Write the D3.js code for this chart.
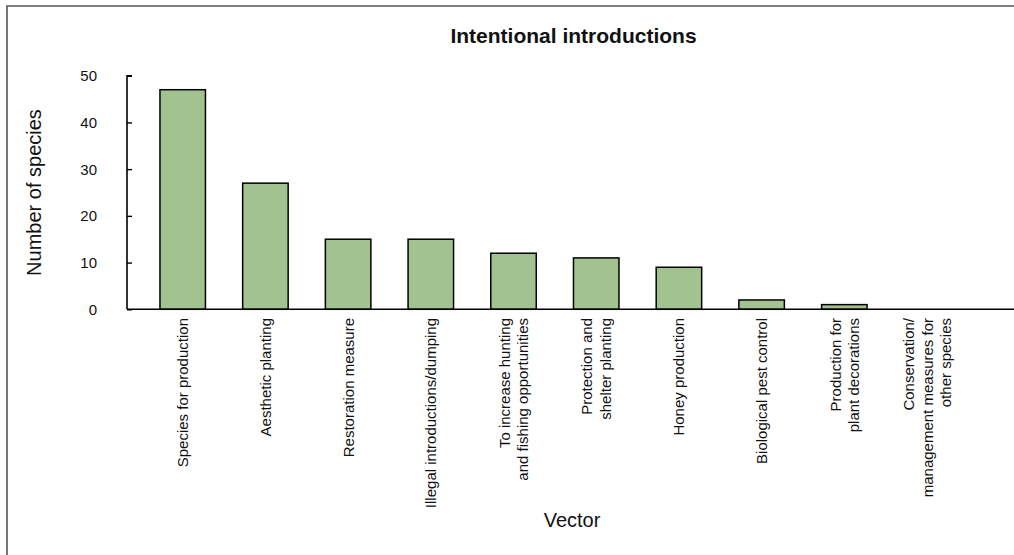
<!DOCTYPE html>
<html>
<head>
<meta charset="utf-8">
<script src="https://cdn.jsdelivr.net/npm/d3@7"></script>
<style>
  html, body { margin: 0; padding: 0; background: #fff; }
  svg { display: block; font-family: "Liberation Sans", Arial, Helvetica, sans-serif; }
</style>
</head>
<body>
<svg id="chart" width="1014" height="555"></svg>
<script>
const categories = [
  ["Species for production"],
  ["Aesthetic planting"],
  ["Restoration measure"],
  ["Illegal introductions/dumping"],
  ["To increase hunting", "and fishing opportunities"],
  ["Protection and", "shelter planting"],
  ["Honey production"],
  ["Biological pest control"],
  ["Production for", "plant decorations"],
  ["Conservation/", "management measures for", "other species"]
];
const values = [47, 27, 15, 15, 12, 11, 9, 2, 1, 0];
const yTicks = [0, 10, 20, 30, 40, 50];
const title = "Intentional introductions";
const xTitle = "Vector";
const yTitle = "Number of species";

const svg = d3.select("#chart");

// frame
svg.append("path")
  .attr("d", "M7,555 L7,6 L1014,6")
  .attr("fill", "none").attr("stroke", "#555").attr("stroke-width", 1.6);

const axisX = 127, y0px = 309.3, y50px = 75.7;
const ids = categories.map((d, i) => i);
const x = d3.scaleBand().domain(ids).range([141.35, 968.4]).paddingInner(0.45).paddingOuter(0.225);
const y = d3.scaleLinear().domain([0, 50]).range([y0px, y50px]);

// bars
svg.append("g").selectAll("rect").data(values).join("rect")
  .attr("x", (d, i) => x(i))
  .attr("y", d => y(d))
  .attr("width", x.bandwidth())
  .attr("height", d => y(0) - y(d))
  .attr("fill", "#a2c38f")
  .attr("stroke", "#000")
  .attr("stroke-width", 1.5);

// y axis
const yAxis = d3.axisRight(y).tickValues(yTicks).tickSize(5).tickFormat("");
const gy = svg.append("g").attr("transform", `translate(${axisX},0)`).call(yAxis);
gy.select(".domain").attr("stroke", "#000").attr("stroke-width", 1.6).attr("d", `M5,${y50px}H0V${y0px}`);
gy.selectAll(".tick line").attr("stroke", "#000").attr("stroke-width", 1.4);

svg.append("g").selectAll("text").data(yTicks).join("text")
  .attr("x", 97).attr("y", d => y(d))
  .attr("text-anchor", "end").attr("dominant-baseline", "central")
  .attr("font-size", 15).attr("fill", "#111")
  .text(d => d);

// x axis line
const xAxis = d3.axisBottom(x).tickSize(0).tickFormat("");
const gx = svg.append("g").attr("transform", `translate(0,${y0px})`).call(xAxis);
gx.select(".domain").attr("stroke", "#000").attr("stroke-width", 1.6).attr("d", `M${axisX},0H1014`);

// category labels
const lineGap = 18.5;
const lab = svg.append("g").selectAll("text").data(categories).join("text")
  .attr("transform", (d, i) => `translate(${x(i) + x.bandwidth() / 2},318) rotate(-90)`)
  .attr("text-anchor", "end")
  .attr("font-size", 15).attr("fill", "#111");
lab.each(function(lines) {
  const t = d3.select(this);
  lines.forEach((ln, j) => {
    t.append("tspan")
      .attr("x", 0)
      .attr("y", (j - (lines.length - 1) / 2) * lineGap)
      .attr("dominant-baseline", "central")
      .text(ln);
  });
});

// titles
svg.append("text").attr("x", 573.5).attr("y", 43)
  .attr("text-anchor", "middle").attr("font-size", 21).attr("font-weight", "bold").attr("fill", "#111")
  .text(title);
svg.append("text").attr("x", 572).attr("y", 527)
  .attr("text-anchor", "middle").attr("font-size", 20).attr("fill", "#111")
  .text(xTitle);
svg.append("text").attr("transform", `translate(34,${(y0px + y50px) / 2}) rotate(-90)`)
  .attr("text-anchor", "middle").attr("dominant-baseline", "central")
  .attr("font-size", 20).attr("fill", "#111")
  .text(yTitle);
</script>
</body>
</html>
